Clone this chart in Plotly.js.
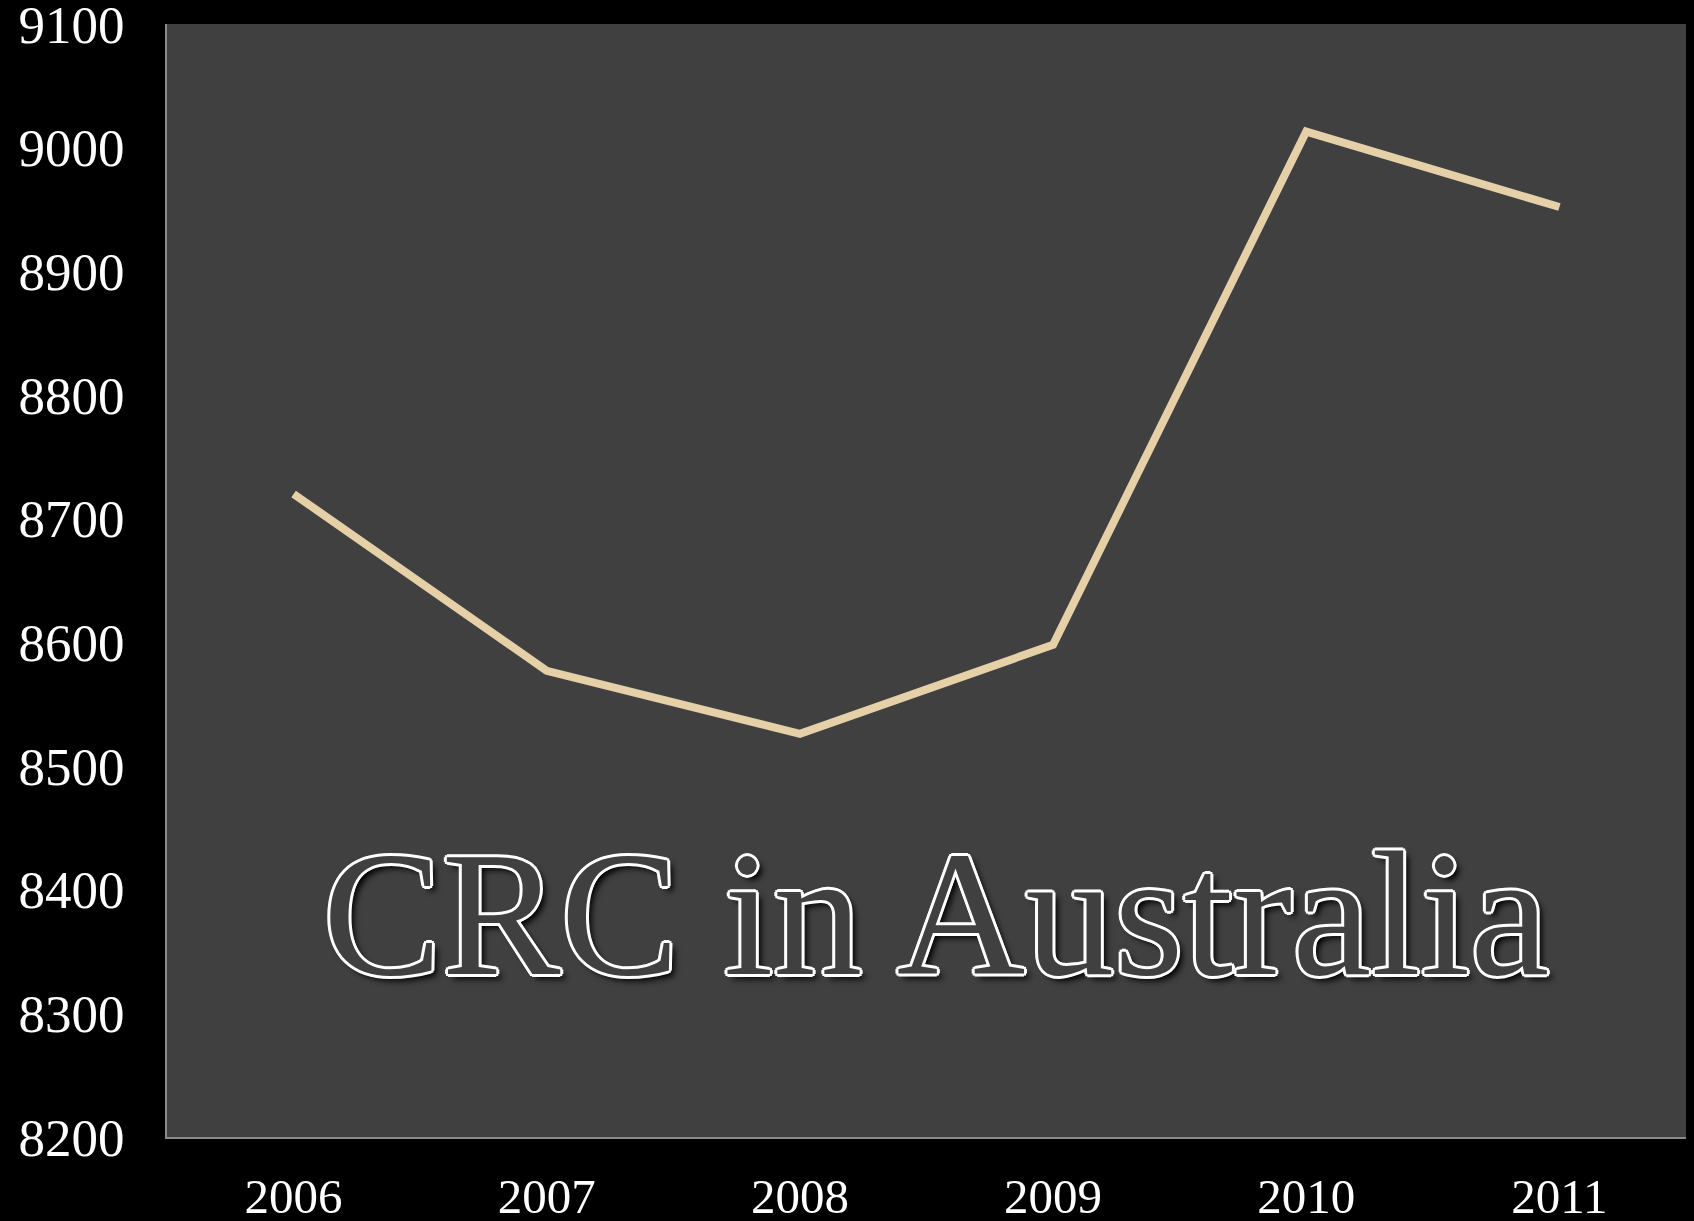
<!DOCTYPE html>
<html>
<head>
<meta charset="utf-8">
<script src="https://cdn.plot.ly/plotly-3.0.1.min.js"></script>
<style>
  html, body { margin: 0; padding: 0; background: #000; }
  #chart { width: 1694px; height: 1221px; }
</style>
</head>
<body>
<div id="chart"></div>
<script>
const years = ["2006", "2007", "2008", "2009", "2010", "2011"];
const crcCases = [8720, 8577, 8526, 8598, 9013, 8952];
const yTickValues = [8200, 8300, 8400, 8500, 8600, 8700, 8800, 8900, 9000, 9100];
const chartTitle = "CRC in Australia";

const serif = "Liberation Serif, DejaVu Serif, serif";

const trace = {
  x: years,
  y: crcCases,
  type: "scatter",
  mode: "lines",
  line: { color: "#E6D0A8", width: 8 },
  hoverinfo: "x+y"
};

const layout = {
  width: 1694,
  height: 1221,
  paper_bgcolor: "#000000",
  plot_bgcolor: "#404040",
  margin: { l: 167, r: 8, t: 24, b: 84 },
  showlegend: false,
  xaxis: {
    type: "category",
    range: [-0.5, 5.5],
    showgrid: false,
    zeroline: false,
    showline: true,
    linecolor: "#8a8a8a",
    linewidth: 2,
    ticks: "",
    ticklabelstandoff: 15,
    ticklabeloverflow: "allow",
    tickfont: { family: serif, size: 49, color: "#ffffff" }
  },
  yaxis: {
    range: [8200, 9100],
    tickvals: yTickValues,
    tickformat: "d",
    showgrid: false,
    zeroline: false,
    showline: true,
    linecolor: "#8a8a8a",
    linewidth: 2,
    ticks: "",
    ticklabelstandoff: 30,
    ticklabeloverflow: "allow",
    tickfont: { family: serif, size: 53, color: "#ffffff" }
  },
  annotations: [{
    text: chartTitle,
    xref: "paper", yref: "paper",
    x: 0.506, y: 0.2,
    xanchor: "center", yanchor: "middle",
    showarrow: false,
    font: {
      family: serif,
      size: 178,
      color: "#404040",
      shadow: "-2px -2px 0 #fff, 2px -2px 0 #fff, -2px 2px 0 #fff, 2px 2px 0 #fff, 0 -3px 0 #fff, 0 3px 0 #fff, -3px 0 0 #fff, 3px 0 0 #fff, 5px 5px 6px #000"
    }
  }]
};

Plotly.newPlot("chart", [trace], layout, { displayModeBar: false, staticPlot: true });
</script>
</body>
</html>
